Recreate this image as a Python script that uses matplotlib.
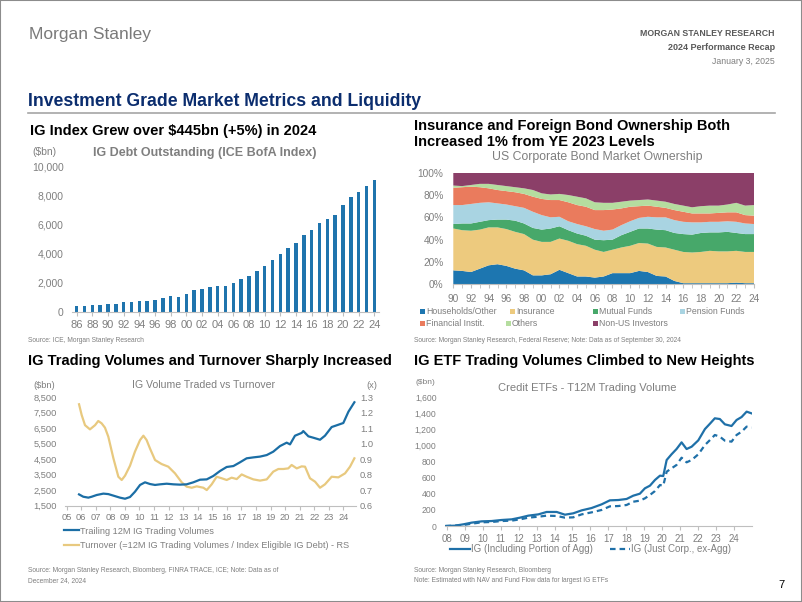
import matplotlib
matplotlib.use('Agg')
import matplotlib.pyplot as plt
from matplotlib.patches import Rectangle
from matplotlib.lines import Line2D
from matplotlib.ticker import FuncFormatter

plt.rcParams['font.family'] = ['Liberation Sans', 'DejaVu Sans']

# ---- data: IG debt outstanding ($bn), 1986-2024
debt_years = list(range(1986, 2025))
debt_outstanding = [400, 400, 460, 480, 530, 550, 650, 650, 740, 760,
                    810, 950, 1100, 1040, 1220, 1500, 1590, 1730, 1800, 1780,
                    1960, 2260, 2490, 2840, 3190, 3560, 3970, 4390, 4730, 5310,
                    5660, 6120, 6400, 6650, 7370, 7900, 8250, 8710, 9120]

# ---- data: US corporate bond ownership (% share), 1990-2024
own_years = list(range(1990, 2025))
households = [12.5, 12, 11, 14, 17, 18, 16.5, 14, 12.5, 8, 8, 9, 13, 10, 7, 7, 6, 7, 10, 10,
              10, 12, 11, 7.5, 7, 3, 1, 1, 1, 1, 1, 1, 1.5, 1, 1]
insurance = [37.5, 36.5, 37, 35, 34, 33, 33, 33, 32.5, 32, 30, 29, 28, 29, 29, 27.5, 25, 22, 21, 23,
             24.5, 25, 25.5, 26, 26, 28, 28, 27.5, 28, 29, 28.5, 28.5, 28.5, 28, 28]
mutual_funds = [4, 6, 6.5, 7, 6.5, 7, 8.5, 10, 9.5, 10.5, 11, 12, 11, 9.5, 9.5, 9, 9, 10.5, 9, 11,
                12.5, 13, 13.5, 15.5, 15.5, 15, 16, 16, 17, 16.5, 17, 17.5, 16, 16, 16]
pension_funds = [17, 16.5, 17.5, 17, 16, 14.5, 13.5, 13, 14, 14.5, 13, 10, 8.5, 8, 8.5, 8.5, 9.5, 8.5, 9, 9,
                 9.5, 9.5, 10.5, 11, 11.5, 11.5, 11, 11, 9.5, 9.5, 9.5, 9.5, 10, 9.5, 9]
financial_inst = [15.5, 16, 15.5, 14, 12.5, 12, 12, 12.5, 12.5, 13.5, 14.5, 15.5, 15, 17, 17, 17.5, 17, 18.5, 18, 15,
                  13, 10.5, 10, 9.5, 8.5, 9, 9, 8, 8, 7.5, 8, 8, 8.5, 7.5, 7.5]
others = [2, 1, 1.5, 3, 4, 4.5, 4.5, 4.5, 5, 6, 5, 5, 5.5, 6.5, 7.5, 7.5, 7, 6.5, 6, 6,
          5.5, 5.5, 5.5, 5.5, 5.5, 5.5, 5.5, 5.5, 6.5, 7, 6.5, 7, 8.5, 8.5, 9.5]
non_us = [11.5, 12, 11, 10, 10, 11, 12, 13, 14, 15.5, 18.5, 19.5, 19, 20, 21.5, 23, 26.5, 27, 27, 26,
          25, 24.5, 24, 25, 26, 28, 29.5, 31, 30, 29.5, 29.5, 28.5, 27, 29.5, 29]
own_labels = ['Households/Other', 'Insurance', 'Mutual Funds', 'Pension Funds',
              'Financial Instit.', 'Others', 'Non-US Investors']

# ---- data: IG trading volume ($bn) and turnover (x)
vol_years = [2005.85, 2006.14, 2006.49, 2006.72, 2007.06, 2007.52, 2007.86, 2008.21, 2008.66, 2009.01,
             2009.35, 2009.69, 2010.04, 2010.38, 2010.72, 2011.07, 2011.41, 2011.87, 2012.33, 2012.78,
             2013.24, 2013.70, 2014.16, 2014.62, 2015.07, 2015.53, 2015.99, 2016.45, 2016.90, 2017.36,
             2017.82, 2018.28, 2018.74, 2019.19, 2019.65, 2020.11, 2020.34, 2020.68, 2021.14, 2021.25,
             2021.60, 2021.94, 2022.40, 2022.74, 2023.20, 2023.54, 2024.00, 2024.35, 2024.76]
vol_values = [2230, 2080, 2020, 2080, 2190, 2280, 2250, 2150, 2020, 1950,
              2060, 2400, 2840, 3010, 2900, 2840, 2880, 2920, 2880, 2860,
              2880, 3010, 3180, 3200, 3420, 3740, 4000, 4060, 4300, 4560,
              4620, 4670, 4770, 4990, 5350, 5570, 5460, 6020, 6200, 6320,
              5980, 5890, 5760, 6020, 6580, 6690, 6840, 7570, 8180]
turn_years = [2005.85, 2006.03, 2006.26, 2006.60, 2006.95, 2007.17, 2007.40, 2007.63, 2007.86, 2008.21,
              2008.55, 2008.78, 2009.01, 2009.35, 2009.69, 2010.04, 2010.27, 2010.49, 2010.72, 2011.07,
              2011.52, 2011.98, 2012.44, 2012.90, 2013.24, 2013.59, 2013.93, 2014.39, 2014.62, 2014.96,
              2015.30, 2015.65, 2015.99, 2016.33, 2016.68, 2017.02, 2017.36, 2017.82, 2018.28, 2018.74,
              2019.19, 2019.54, 2019.88, 2020.22, 2020.45, 2020.80, 2021.14, 2021.37, 2021.71, 2022.06,
              2022.40, 2022.74, 2023.20, 2023.66, 2024.12, 2024.46, 2024.76]
turn_values = [1.255, 1.186, 1.12, 1.093, 1.12, 1.147, 1.132, 1.104, 1.046, 0.906,
               0.787, 0.766, 0.794, 0.858, 0.949, 1.024, 1.052, 1.024, 0.97, 0.895,
               0.869, 0.852, 0.809, 0.751, 0.723, 0.716, 0.725, 0.716, 0.701, 0.738,
               0.787, 0.777, 0.766, 0.781, 0.772, 0.802, 0.787, 0.77, 0.762, 0.77,
               0.82, 0.837, 0.837, 0.841, 0.863, 0.841, 0.854, 0.852, 0.777, 0.755,
               0.716, 0.738, 0.787, 0.783, 0.809, 0.852, 0.906]

# ---- data: credit ETF T12M trading volume ($bn)
etf_years = [2007.94, 2008.46, 2008.93, 2009.39, 2009.95, 2010.50, 2011.06, 2011.62, 2012.08, 2012.54,
             2013.10, 2013.56, 2014.12, 2014.58, 2015.04, 2015.51, 2016.06, 2016.62, 2017.08, 2017.55,
             2018.01, 2018.38, 2018.75, 2019.03, 2019.31, 2019.59, 2019.87, 2020.05, 2020.24, 2020.51,
             2020.79, 2021.07, 2021.35, 2021.63, 2022.00, 2022.37, 2022.65, 2022.92, 2023.20, 2023.48,
             2023.85, 2024.13, 2024.41, 2024.69, 2024.96]
etf_ig_agg = [0, 4, 21, 42, 58, 62, 75, 83, 104, 129,
              145, 175, 175, 141, 158, 195, 224, 270, 320, 324,
              337, 378, 403, 470, 503, 574, 628, 623, 823, 894,
              960, 1043, 960, 989, 1068, 1209, 1276, 1343, 1334, 1268,
              1247, 1322, 1359, 1426, 1405]
etf_ig_corp = [0, 5, 12, 29, 46, 50, 62, 67, 83, 104,
               116, 129, 125, 104, 108, 145, 170, 200, 245, 249,
               262, 303, 316, 345, 387, 436, 511, 503, 677, 719,
               761, 852, 794, 823, 894, 1010, 1072, 1135, 1114, 1064,
               1052, 1135, 1176, 1239, 1226]

W, H = 802, 602
GREY = '#7f7f7f'
AXC = '#bfbfbf'

fig = plt.figure(figsize=(W / 100, H / 100), dpi=100)


def box(x0, y0, x1, y1):
    return [x0 / W, 1 - y1 / H, (x1 - x0) / W, (y1 - y0) / H]


def txt(x, y, s, **kw):
    kw.setdefault('va', 'center')
    return fig.text(x / W, 1 - y / H, s, **kw)


def style_axis(ax, size):
    for sp in ('top', 'right', 'left'):
        ax.spines[sp].set_visible(False)
    ax.spines['bottom'].set_color(AXC)
    ax.tick_params(axis='y', length=0, labelsize=size, labelcolor=GREY)
    ax.tick_params(axis='x', length=3, color=AXC, labelsize=size, labelcolor=GREY)


comma = FuncFormatter(lambda v, p: f'{v:,.0f}')
yy = lambda v, p: f'{int(round(v)) % 100:02d}'

# ---- page header
fig.add_artist(Rectangle((0, 0), 1, 1, transform=fig.transFigure, fill=False,
                         edgecolor='#8c8c8c', lw=1.5))
txt(29, 34, 'Morgan Stanley', fontsize=12.5, color='#7a7a7a')
txt(775, 33, 'MORGAN STANLEY RESEARCH', fontsize=6.3, color='#595959',
    weight='bold', ha='right')
txt(775, 47, '2024 Performance Recap', fontsize=6.5, color='#595959',
    weight='bold', ha='right')
txt(775, 61, 'January 3, 2025', fontsize=6.3, color='#7f7f7f', ha='right')
txt(28, 101, 'Investment Grade Market Metrics and Liquidity', fontsize=12.7,
    color='#0b2d6e', weight='bold')
fig.add_artist(Line2D([28 / W, 775 / W], [1 - 113 / H, 1 - 113 / H],
                      color='#a6a6a6', lw=1.2))
txt(781, 585, '7', fontsize=8, ha='center')

# ---- chart 1: IG debt outstanding
txt(30, 131, 'IG Index Grew over $445bn (+5%) in 2024', fontsize=10.5, weight='bold')
ax1 = fig.add_axes(box(72, 167, 379, 311.7))
ax1.bar(debt_years, debt_outstanding, width=0.45, color='#1f74ad')
ax1.set_xlim(1985.4, 2024.6)
ax1.set_ylim(0, 10000)
ax1.set_yticks(range(0, 10001, 2000))
ax1.yaxis.set_major_formatter(comma)
ax1.set_xticks(debt_years[::2])
ax1.xaxis.set_major_formatter(FuncFormatter(yy))
style_axis(ax1, 7.5)
ax1.tick_params(axis='x', labelsize=8, pad=3)
ax1.tick_params(axis='y', pad=6)
txt(32, 152, '($bn)', fontsize=7.5, color=GREY)
txt(205, 153, 'IG Debt Outstanding (ICE BofA Index)', fontsize=9, color=GREY,
    weight='bold', ha='center')
txt(28, 340, 'Source: ICE, Morgan Stanley Research', fontsize=4.8, color=GREY)

# ---- chart 2: ownership
txt(414, 126, 'Insurance and Foreign Bond Ownership Both', fontsize=10.5, weight='bold')
txt(414, 142, 'Increased 1% from YE 2023 Levels', fontsize=10.5, weight='bold')
txt(597, 157, 'US Corporate Bond Market Ownership', fontsize=8.8, color=GREY, ha='center')
own_colors = ['#1d76b0', '#edca7e', '#47a86a', '#a9d4e2', '#ea7b5d', '#b5dd9f', '#8b3f68']
ax2 = fig.add_axes(box(453.3, 172.7, 754, 284.3))
ax2.stackplot(own_years, households, insurance, mutual_funds, pension_funds,
              financial_inst, others, non_us, colors=own_colors, lw=0)
ax2.set_xlim(1990, 2024)
ax2.set_ylim(0, 100)
ax2.set_yticks(range(0, 101, 20))
ax2.yaxis.set_major_formatter(FuncFormatter(lambda v, p: f'{v:.0f}%'))
ax2.set_xticks(own_years[::2])
ax2.set_xticks(own_years, minor=True)
ax2.xaxis.set_major_formatter(FuncFormatter(yy))
style_axis(ax2, 7.3)
ax2.tick_params(axis='x', which='minor', length=3, color=AXC)
ax2.tick_params(axis='y', pad=7)
ax2.tick_params(axis='x', pad=4)
leg_pos = [(422, 311), (512, 311), (595, 311), (682, 311),
           (422, 323), (508, 323), (595, 323)]
for (lx, ly), lab, col in zip(leg_pos, own_labels, own_colors):
    fig.add_artist(Rectangle(((lx - 2.5) / W, 1 - (ly + 2.5) / H), 5 / W, 5 / H,
                             transform=fig.transFigure, color=col, lw=0))
    txt(lx + 4, ly, lab, fontsize=6.3, color=GREY)
txt(414, 340, 'Source: Morgan Stanley Research, Federal Reserve; Note: Data as of September 30, 2024',
    fontsize=4.8, color=GREY)

# ---- chart 3: volume vs turnover
txt(28, 361, 'IG Trading Volumes and Turnover Sharply Increased', fontsize=10.5, weight='bold')
txt(204, 385, 'IG Volume Traded vs Turnover', fontsize=7.6, color=GREY, ha='center')
txt(33, 385, '($bn)', fontsize=6.7, color=GREY)
txt(372, 385, '(x)', fontsize=6.7, color=GREY, ha='center')
ax3 = fig.add_axes(box(65.2, 397.3, 355.7, 505.7))
ax3b = ax3.twinx()
l1, = ax3.plot(vol_years, vol_values, color='#1b6ea5', lw=1.6,
               label='Trailing 12M IG Trading Volumes')
l2, = ax3b.plot(turn_years, turn_values, color='#e8c97f', lw=1.6,
                label='Turnover (=12M IG Trading Volumes / Index Eligible IG Debt) - RS')
ax3.set_zorder(ax3b.get_zorder() + 1)
ax3.patch.set_visible(False)
ax3.set_xlim(2004.9, 2024.85)
ax3.set_ylim(1500, 8500)
ax3.set_yticks(range(1500, 8501, 1000))
ax3.yaxis.set_major_formatter(comma)
ax3b.set_ylim(0.6, 1.3)
ax3b.set_yticks([0.6, 0.7, 0.8, 0.9, 1.0, 1.1, 1.2, 1.3])
ax3b.yaxis.set_major_formatter(FuncFormatter(lambda v, p: f'{v:.1f}'))
ax3.set_xticks(range(2005, 2025))
ax3.xaxis.set_major_formatter(FuncFormatter(yy))
style_axis(ax3, 6.7)
for sp in ax3b.spines.values():
    sp.set_visible(False)
ax3b.tick_params(axis='y', length=0, labelsize=6.7, labelcolor=GREY, pad=3)
ax3.tick_params(axis='y', pad=6)
ax3.tick_params(axis='x', pad=2)
ax3.legend(handles=[l1, l2], loc='upper left', bbox_to_anchor=(59 / W, 1 - 522 / H),
           bbox_transform=fig.transFigure, frameon=False, fontsize=6.6,
           handlelength=1.7, handletextpad=0.1, labelspacing=0.6, borderpad=0,
           labelcolor=GREY)
txt(28, 570, 'Source: Morgan Stanley Research, Bloomberg, FINRA TRACE, ICE; Note: Data as of',
    fontsize=4.8, color=GREY)
txt(28, 581, 'December 24, 2024', fontsize=4.8, color=GREY)

# ---- chart 4: ETF volumes
txt(414, 361, 'IG ETF Trading Volumes Climbed to New Heights', fontsize=10.5, weight='bold')
txt(587, 388, 'Credit ETFs - T12M Trading Volume', fontsize=8, color=GREY, ha='center')
txt(415, 383, '($bn)', fontsize=6, color=GREY)
ax4 = fig.add_axes(box(444.9, 397.7, 752.2, 526))
m1, = ax4.plot(etf_years, etf_ig_agg, color='#1f70a8', lw=1.6,
               label='IG (Including Portion of Agg)')
m2, = ax4.plot(etf_years, etf_ig_corp, color='#1f70a8', lw=1.6, ls=(0, (2.5, 1.8)),
               label='IG (Just Corp., ex-Agg)')
ax4.set_xlim(2007.9, 2025.0)
ax4.set_ylim(0, 1600)
ax4.set_yticks(range(0, 1601, 200))
ax4.yaxis.set_major_formatter(comma)
ax4.set_xticks(range(2008, 2025))
ax4.xaxis.set_major_formatter(FuncFormatter(yy))
style_axis(ax4, 6.2)
ax4.tick_params(axis='x', labelsize=7)
ax4.tick_params(axis='y', pad=6)
ax4.tick_params(axis='x', pad=3)
ax4.legend(handles=[m1, m2], loc='center left', bbox_to_anchor=(445 / W, 1 - 549 / H),
           bbox_transform=fig.transFigure, frameon=False, fontsize=7, ncol=2,
           handlelength=2.1, handletextpad=0.1, columnspacing=1.7, borderpad=0,
           labelcolor=GREY)
txt(414, 570, 'Source: Morgan Stanley Research, Bloomberg', fontsize=4.8, color=GREY)
txt(414, 581, 'Note: Estimated with NAV and Fund Flow data for largest IG ETFs',
    fontsize=4.8, color=GREY)

fig.savefig('out.png', dpi=100)
